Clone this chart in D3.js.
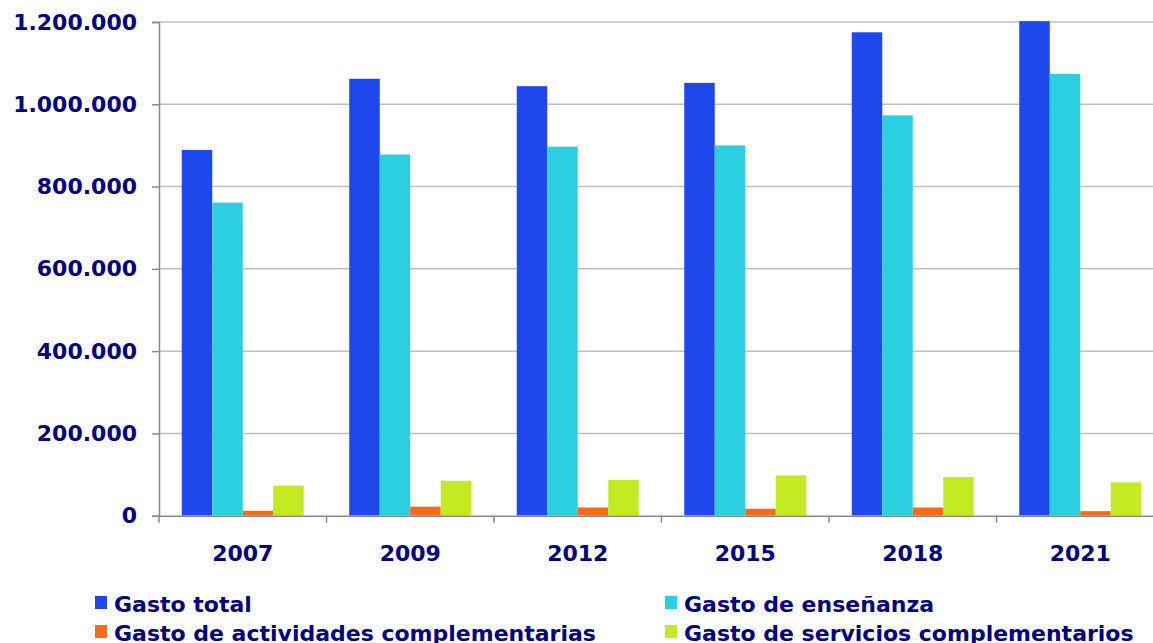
<!DOCTYPE html>
<html>
<head>
<meta charset="utf-8">
<script src="https://cdn.jsdelivr.net/npm/d3@7"></script>
<style>
  body { margin: 0; background: #fff; }
  text { font-family: "DejaVu Sans", Verdana, sans-serif; font-weight: bold; fill: #000080; }
</style>
</head>
<body>
<svg id="chart"></svg>
<script>
const years = ["2007", "2009", "2012", "2015", "2018", "2021"]
const seriesNames = ["Gasto total", "Gasto de enseñanza", "Gasto de actividades complementarias", "Gasto de servicios complementarios"]
const colors = ["#1f47ee", "#2bcfe0", "#f56a1c", "#c4eb22"]

const gastoTotal = [889000, 1062000, 1044000, 1052000, 1175000, 1202000]
const gastoEnsenanza = [761000, 878000, 897000, 900000, 973000, 1074000]
const gastoActividades = [12000, 22000, 20000, 17000, 20000, 11000]
const gastoServicios = [73000, 85000, 87000, 98000, 94000, 81000]

const yTicks = [0, 200000, 400000, 600000, 800000, 1000000, 1200000]

let width = 1153
let height = 643
let plotLeft = 159
let plotTop = 22
let plotBottom = 515.7
let band = 167.5

let values = [gastoTotal, gastoEnsenanza, gastoActividades, gastoServicios]

let svg = d3.select("#chart")
    .attr("width", width)
    .attr("height", height)

let xScale = d3.scaleBand()
    .domain(years)
    .range([plotLeft, plotLeft + band * years.length])

let xSub = d3.scaleBand()
    .domain(seriesNames)
    .range([22.75, band - 22.75])

let yScale = d3.scaleLinear()
    .domain([0, 1200000])
    .range([plotBottom, plotTop])

const fmt = v => d3.format(",")(v).replace(/,/g, ".")

// gridlines
svg.append("g")
    .selectAll("line")
    .data(yTicks.slice(1))
    .enter()
    .append("line")
    .attr("x1", plotLeft)
    .attr("x2", width)
    .attr("y1", d => yScale(d))
    .attr("y2", d => yScale(d))
    .attr("stroke", "#c0c0c0")
    .attr("stroke-width", 1.5)

svg.append("clipPath")
    .attr("id", "plot")
    .append("rect")
    .attr("x", plotLeft)
    .attr("y", plotTop - 1)
    .attr("width", width - plotLeft)
    .attr("height", plotBottom - plotTop + 1)

// bars
let groups = svg.append("g")
    .attr("clip-path", "url(#plot)")
    .selectAll("g")
    .data(years)
    .enter()
    .append("g")
    .attr("transform", d => "translate(" + xScale(d) + ",0)")

groups.selectAll("rect")
    .data((d, i) => seriesNames.map((s, j) => ({ s: s, v: values[j][i], c: colors[j] })))
    .enter()
    .append("rect")
    .attr("x", d => xSub(d.s))
    .attr("width", xSub.bandwidth())
    .attr("y", d => yScale(d.v))
    .attr("height", d => plotBottom - yScale(d.v))
    .attr("fill", d => d.c)

// axes
let yAxis = d3.axisLeft(yScale)
    .tickValues(yTicks)
    .tickFormat(fmt)
    .tickSize(7)
    .tickPadding(15)

let gy = svg.append("g")
    .attr("transform", "translate(" + plotLeft + ",0)")
    .call(yAxis)
gy.select(".domain").attr("stroke", "#888").attr("stroke-width", 1.5)
gy.selectAll(".tick line").attr("stroke", "#888").attr("stroke-width", 1.5)
gy.selectAll("text").style("font-size", "22px").attr("fill", "#000080")

let xAxis = d3.axisBottom(xScale)
    .tickSize(0)
    .tickPadding(30)

let gx = svg.append("g")
    .attr("transform", "translate(0," + plotBottom + ")")
    .call(xAxis)
gx.select(".domain").attr("stroke", "#888").attr("stroke-width", 1.5)
gx.selectAll("text").style("font-size", "22px").attr("fill", "#000080")

// category separators
gx.selectAll(".sep")
    .data(years)
    .enter()
    .append("line")
    .attr("x1", d => xScale(d))
    .attr("x2", d => xScale(d))
    .attr("y1", 0)
    .attr("y2", 7)
    .attr("stroke", "#888")
    .attr("stroke-width", 1.5)

// legend
let legendPos = [[95, 596], [665, 596], [95, 625], [665, 625]]

let legend = svg.append("g")
    .selectAll("g")
    .data(seriesNames)
    .enter()
    .append("g")
    .attr("transform", (d, i) => "translate(" + legendPos[i][0] + "," + legendPos[i][1] + ")")

legend.append("rect")
    .attr("width", 12)
    .attr("height", 13)
    .attr("fill", (d, i) => colors[i])

legend.append("text")
    .attr("x", 19)
    .attr("y", 16)
    .style("font-size", "22px")
    .text(d => d)
</script>
</body>
</html>
